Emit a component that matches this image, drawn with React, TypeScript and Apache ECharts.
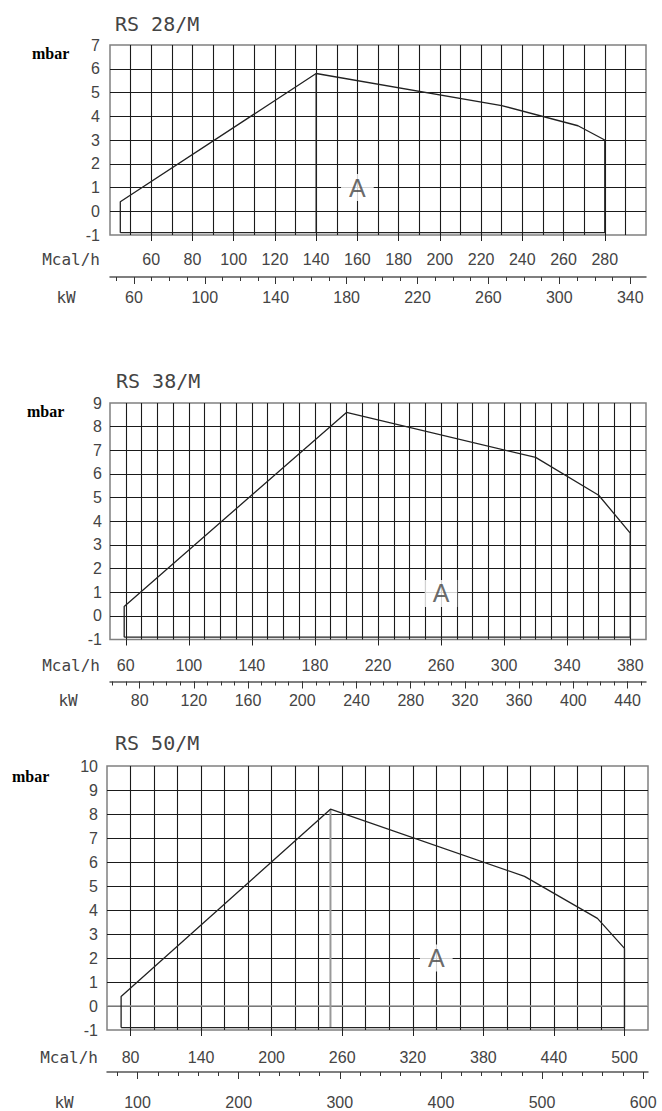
import React, { useEffect, useRef } from "react";
import * as echarts from "echarts";

const KW_PER_MCAL = 1.163;
const FONT = "'Liberation Sans', Arial, sans-serif";
const MONO = "'DejaVu Sans Mono', 'Liberation Mono', monospace";

// ---------- RS 28/M ----------
const rs28Title = "RS 28/M";
const rs28McalRange = [40, 300];
const rs28MbarRange = [-1, 7];
const rs28GridStep = 10;
const rs28McalLabels = [60, 80, 100, 120, 140, 160, 180, 200, 220, 240, 260, 280];
const rs28KwLabels = [60, 100, 140, 180, 220, 260, 300, 340];
const rs28KwMinorStep = 10;
const rs28CurveMcal = [45, 45, 140, 230, 267, 280, 280, 45];
const rs28CurveMbar = [-0.9, 0.4, 5.8, 4.45, 3.6, 3.0, -0.9, -0.9];
const rs28DividerMcal = [140, 140];
const rs28DividerMbar = [5.8, -0.9];
const rs28A = [160, 1];

// ---------- RS 38/M ----------
const rs38Title = "RS 38/M";
const rs38McalRange = [50, 390];
const rs38MbarRange = [-1, 9];
const rs38GridStep = 10;
const rs38McalLabels = [60, 100, 140, 180, 220, 260, 300, 340, 380];
const rs38KwLabels = [80, 120, 160, 200, 240, 280, 320, 360, 400, 440];
const rs38KwMinorStep = 10;
const rs38CurveMcal = [59, 59, 200, 320, 360, 380, 380, 59];
const rs38CurveMbar = [-0.9, 0.4, 8.6, 6.7, 5.1, 3.5, -0.9, -0.9];
const rs38DividerMcal: number[] = [];
const rs38DividerMbar: number[] = [];
const rs38A = [260, 0.95];

// ---------- RS 50/M ----------
const rs50Title = "RS 50/M";
const rs50McalRange = [60, 520];
const rs50MbarRange = [-1, 10];
const rs50GridStep = 20;
const rs50McalLabels = [80, 140, 200, 260, 320, 380, 440, 500];
const rs50KwLabels = [100, 200, 300, 400, 500, 600];
const rs50KwMinorStep = 20;
const rs50CurveMcal = [72, 72, 250, 415, 477, 500, 500, 72];
const rs50CurveMbar = [-0.9, 0.4, 8.2, 5.4, 3.65, 2.4, -0.9, -0.9];
const rs50DividerMcal = [250, 250];
const rs50DividerMbar = [8.2, -0.9];
const rs50A = [340, 2];

const panels = [
  {
    title: rs28Title, mcalRange: rs28McalRange, mbarRange: rs28MbarRange, gridStep: rs28GridStep,
    mcalLabels: rs28McalLabels, kwLabels: rs28KwLabels, kwMinorStep: rs28KwMinorStep,
    curveMcal: rs28CurveMcal, curveMbar: rs28CurveMbar,
    dividerMcal: rs28DividerMcal, dividerMbar: rs28DividerMbar, dividerColor: "#222", dividerWidth: 1.3,
    a: rs28A, grayZero: false,
  },
  {
    title: rs38Title, mcalRange: rs38McalRange, mbarRange: rs38MbarRange, gridStep: rs38GridStep,
    mcalLabels: rs38McalLabels, kwLabels: rs38KwLabels, kwMinorStep: rs38KwMinorStep,
    curveMcal: rs38CurveMcal, curveMbar: rs38CurveMbar,
    dividerMcal: rs38DividerMcal, dividerMbar: rs38DividerMbar, dividerColor: "#222", dividerWidth: 1.3,
    a: rs38A, grayZero: false,
  },
  {
    title: rs50Title, mcalRange: rs50McalRange, mbarRange: rs50MbarRange, gridStep: rs50GridStep,
    mcalLabels: rs50McalLabels, kwLabels: rs50KwLabels, kwMinorStep: rs50KwMinorStep,
    curveMcal: rs50CurveMcal, curveMbar: rs50CurveMbar,
    dividerMcal: rs50DividerMcal, dividerMbar: rs50DividerMbar, dividerColor: "#999", dividerWidth: 2,
    a: rs50A, grayZero: true,
  },
];

const layout = [
  { left: 110, top: 45, width: 536, height: 190, titleX: 115, titleY: 24, mbarX: 32, mbarY: 53,
    mcalRight: 100, mcalY: 259, mcalMargin: 16, kwX: 66, kwY: 297.5, kwMargin: 12.5, yMargin: 10 },
  { left: 110, top: 403, width: 536, height: 236.5, titleX: 116, titleY: 381, mbarX: 27, mbarY: 411,
    mcalRight: 100, mcalY: 665, mcalMargin: 17.5, kwX: 68, kwY: 700, kwMargin: 10.5, yMargin: 8 },
  { left: 107, top: 766, width: 541, height: 264, titleX: 115, titleY: 743, mbarX: 12, mbarY: 776,
    mcalRight: 98, mcalY: 1057, mcalMargin: 19, kwX: 64, kwY: 1102.5, kwMargin: 22.5, yMargin: 9 },
];

function stepTicks(lo: number, hi: number, step: number): number[] {
  const out: number[] = [];
  for (let v = Math.ceil(lo / step) * step; v <= hi + 1e-9; v += step) out.push(v);
  return out;
}

function zip(a: number[], b: number[]) {
  return a.map((v, i) => [v, b[i]]);
}

function buildOption() {
  const grid: any[] = [];
  const xAxis: any[] = [];
  const yAxis: any[] = [];
  const series: any[] = [];
  const graphic: any[] = [];
  const gridLine = { color: "#1a1a1a", width: 1.1 };
  const labelStyle = { fontSize: 16, color: "#444", fontFamily: FONT };

  panels.forEach((p, i) => {
    const L = layout[i];
    const [xmin, xmax] = p.mcalRange;
    const kwMin = xmin * KW_PER_MCAL;
    const kwMax = xmax * KW_PER_MCAL;
    grid.push({
      left: L.left, top: L.top, width: L.width, height: L.height,
      show: true, borderColor: "#808080", borderWidth: 1.5, backgroundColor: "#fff",
    });
    // grid lines + data axis
    xAxis.push({
      gridIndex: i, type: "value", position: "bottom", min: xmin, max: xmax, interval: p.gridStep,
      axisLine: { show: false, onZero: false }, axisTick: { show: false }, axisLabel: { show: false },
      splitLine: { show: true, showMinLine: false, showMaxLine: false, lineStyle: gridLine },
    });
    // Mcal/h ticks and labels
    xAxis.push({
      gridIndex: i, type: "value", position: "bottom", offset: 0, min: xmin, max: xmax,
      axisLine: { show: false, onZero: false },
      axisTick: { show: true, customValues: p.mcalLabels, length: 6, lineStyle: { color: "#222", width: 1 } },
      axisLabel: { show: true, customValues: p.mcalLabels, margin: L.mcalMargin, ...labelStyle },
      splitLine: { show: false },
    });
    // kW minor ticks + line
    xAxis.push({
      gridIndex: i, type: "value", position: "bottom", min: kwMin, max: kwMax, offset: 42,
      axisLine: { show: true, onZero: false, lineStyle: { color: "#555", width: 1.5 } },
      axisTick: { show: true, customValues: stepTicks(kwMin, kwMax, p.kwMinorStep), length: 4, lineStyle: { color: "#333", width: 1 } },
      axisLabel: { show: false },
      splitLine: { show: false },
    });
    // kW major ticks + labels
    xAxis.push({
      gridIndex: i, type: "value", position: "bottom", min: kwMin, max: kwMax, offset: 42,
      axisLine: { show: false, onZero: false },
      axisTick: { show: true, customValues: p.kwLabels, length: 7, lineStyle: { color: "#333", width: 1 } },
      axisLabel: { show: true, customValues: p.kwLabels, margin: L.kwMargin, ...labelStyle },
      splitLine: { show: false },
    });
    yAxis.push({
      gridIndex: i, type: "value", position: "left", min: p.mbarRange[0], max: p.mbarRange[1], interval: 1,
      axisLine: { show: false, onZero: false }, axisTick: { show: false },
      axisLabel: { show: true, margin: L.yMargin, ...labelStyle },
      splitLine: { show: true, showMinLine: false, showMaxLine: false, lineStyle: gridLine },
    });
    if (p.grayZero) {
      series.push({
        type: "line", xAxisIndex: 4 * i, yAxisIndex: i, silent: true, symbol: "none",
        data: [[xmin, 0], [xmax, 0]], lineStyle: { color: "#999", width: 1.5 }, z: 3,
      });
    }
    if (p.dividerMcal.length) {
      series.push({
        type: "line", xAxisIndex: 4 * i, yAxisIndex: i, silent: true, symbol: "none",
        data: zip(p.dividerMcal, p.dividerMbar), lineStyle: { color: p.dividerColor, width: p.dividerWidth }, z: 4,
      });
    }
    series.push({
      type: "line", xAxisIndex: 4 * i, yAxisIndex: i, silent: true, symbol: "none",
      data: zip(p.curveMcal, p.curveMbar), lineStyle: { color: "#222", width: 1.3 }, z: 5,
    });
    series.push({
      type: "scatter", xAxisIndex: 4 * i, yAxisIndex: i, silent: true, symbolSize: 1,
      itemStyle: { color: "transparent" },
      data: [p.a], z: 10,
      label: {
        show: true, position: "inside", formatter: "A", fontSize: 25, color: "#444", fontFamily: FONT,
        backgroundColor: "#fff", padding: [1, 8, 1, 8],
      },
    });
    graphic.push({
      type: "text", x: L.titleX, y: L.titleY,
      style: { text: p.title, fontSize: 20, fontFamily: MONO, fill: "#444", align: "left", verticalAlign: "middle" },
    });
    graphic.push({
      type: "text", x: L.mbarX, y: L.mbarY,
      style: { text: "mbar", fontSize: 16, fontWeight: "bold", fontFamily: "'Liberation Serif', 'Times New Roman', serif", fill: "#000", align: "left", verticalAlign: "middle" },
    });
    graphic.push({
      type: "text", x: L.mcalRight, y: L.mcalY,
      style: { text: "Mcal/h", fontSize: 16, fontFamily: MONO, fill: "#444", align: "right", verticalAlign: "middle" },
    });
    graphic.push({
      type: "text", x: L.kwX, y: L.kwY,
      style: { text: "kW", fontSize: 16, fontFamily: MONO, fill: "#444", align: "center", verticalAlign: "middle" },
    });
  });

  return {
    animation: false,
    backgroundColor: "#fff",
    grid,
    xAxis,
    yAxis,
    series,
    graphic,
  };
}

export default function App() {
  const ref = useRef<HTMLDivElement>(null);
  useEffect(() => {
    if (!ref.current) return;
    const chart = echarts.init(ref.current, undefined, { renderer: "svg" });
    chart.setOption(buildOption());
    return () => chart.dispose();
  }, []);
  return (
    <div
      ref={ref}
      style={{ position: "absolute", left: 0, top: 0, width: 662, height: 1111, background: "#fff" }}
    />
  );
}
